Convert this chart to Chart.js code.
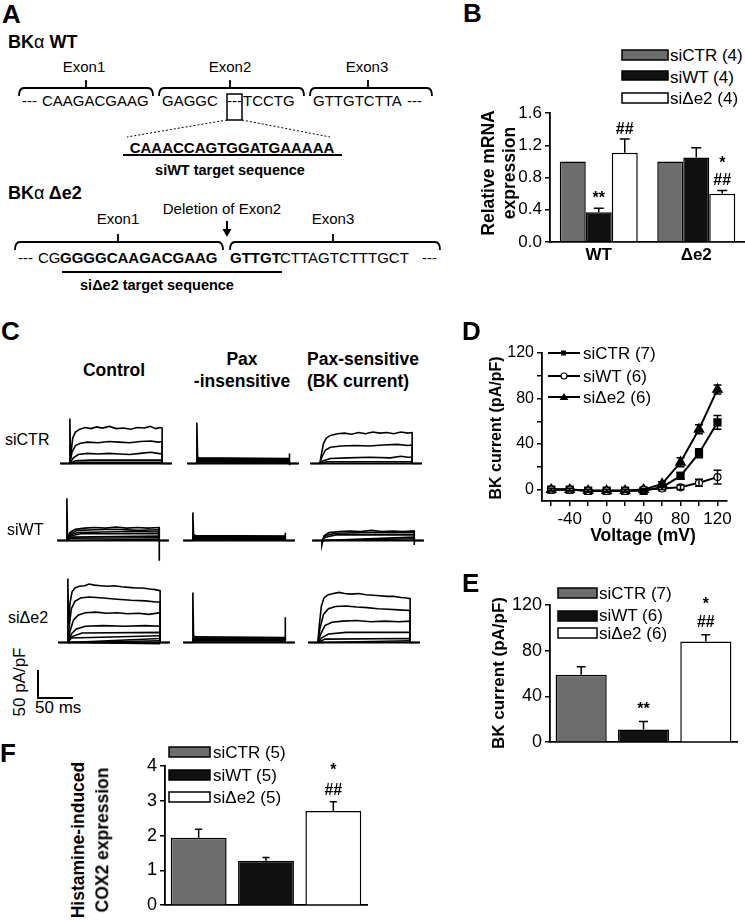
<!DOCTYPE html>
<html lang="en">
<head>
<meta charset="UTF-8">
<title>BK alpha splice variants</title>
<script src="https://cdn.jsdelivr.net/npm/chart.js"></script>
<style>
    body { margin: 0; background: #fff; }
    #fig {
        position: relative;
        width: 745px;
        height: 920px;
        overflow: hidden;
        background: #fff;
        color: #000;
        font-family: 'Liberation Sans', Arial, sans-serif;
    }
    .t { position: absolute; white-space: nowrap; line-height: 1; }
    canvas { position: absolute; }
    svg { position: absolute; left: 0; top: 0; }
</style>
</head>
<body>
<div id="fig">
<svg width="745" height="920" fill="none" stroke="#000">
    <!-- panel A diagram -->
    <g stroke-width="1.8">
        <path d="M19,96 Q19,88 24,88 L148,88 Q153,88 153,96 M86,88 L86,80"/>
        <path d="M159,96 Q159,88 164,88 L299,88 Q304,88 304,96 M230,88 L230,80"/>
        <path d="M310,96 Q310,88 315,88 L427,88 Q432,88 432,96 M368,88 L368,80"/>
        <path d="M15,250 Q15,242 20,242 L218,242 Q223,242 223,250 M118,242 L118,234"/>
        <path d="M230,250 Q230,242 235,242 L435,242 Q440,242 440,250 M333,242 L333,234"/>
        <rect x="227" y="94" width="15" height="26" stroke-width="1.5"/>
        <line x1="123" y1="155" x2="342" y2="155" stroke-width="2"/>
        <line x1="62" y1="272" x2="282" y2="272" stroke-width="2"/>
        <line x1="227" y1="221" x2="227" y2="230" stroke-width="2"/>
    </g>
    <polygon points="222.5,229 231.5,229 227,237" fill="#000" stroke="none"/>
    <g stroke-width="1" stroke-dasharray="2,2">
        <line x1="227" y1="120" x2="127" y2="137"/>
        <line x1="242" y1="120" x2="330" y2="137"/>
    </g>
    <!-- panel C scale bar -->
    <polyline points="38,670 38,698 73,698" stroke-width="2"/>
    <!-- legend keys -->
    <g stroke-width="1.5">
        <rect x="622" y="50" width="46" height="10" fill="#6d6d6d"/>
        <rect x="622" y="71" width="46" height="9" fill="#111"/>
        <rect x="622" y="93" width="46" height="10" fill="#fff"/>
        <rect x="558" y="588" width="39" height="10" fill="#6d6d6d"/>
        <rect x="558" y="611" width="39" height="10" fill="#111"/>
        <rect x="558" y="628" width="39" height="10" fill="#fff"/>
        <rect x="169" y="747" width="41" height="10" fill="#6d6d6d"/>
        <rect x="169" y="770" width="41" height="10" fill="#111"/>
        <rect x="169" y="792" width="41" height="10" fill="#fff"/>
    </g>
    <g stroke-width="2">
        <line x1="548" y1="353" x2="580" y2="353"/>
        <line x1="548" y1="376" x2="580" y2="376"/>
        <line x1="548" y1="397" x2="580" y2="397"/>
    </g>
    <rect x="561" y="350.5" width="5" height="5" fill="#000" stroke="none"/>
    <circle cx="564" cy="376" r="3" fill="#fff" stroke-width="1.2"/>
    <polygon points="564,393 568.5,400 559.5,400" fill="#000" stroke="none"/>
</svg>
</div>
<script>
// ---- B: relative mRNA expression
const mrnaGroups = ['WT', 'Δe2'];
const mrnaCTR = [1.0, 1.0];
const mrnaWT = [0.37, 1.05];
const mrnaDe2 = [1.11, 0.60];
const mrnaCTRerr = [0, 0];
const mrnaWTerr = [0.05, 0.12];
const mrnaDe2err = [0.17, 0.04];
const mrnaWTsig = ['**', ''];
const mrnaDe2sig = ['##', '*\n##'];
const mrnaTicks = [0, 0.4, 0.8, 1.2, 1.6];

// ---- D: I-V curves
const volts = [-60, -40, -20, 0, 20, 40, 60, 80, 100, 120];
const ivCTR = [0, 0, -1, -1, -1, -1, 2, 12, 32, 59];
const ivWT = [0, 0, -1, -1, -1, 0, 1, 2, 6, 11];
const ivDe2 = [0, 0, -1, -1, -1, 0, 5, 24, 53, 88];
const ivCTRerr = [1, 1, 1, 1, 1, 1, 2, 3, 4, 6];
const ivWTerr = [1, 1, 1, 1, 1, 1, 1, 2, 3, 6];
const ivDe2err = [1, 1, 1, 1, 1, 1, 2, 4, 4, 4];
const ivXTicks = [-60, -40, -20, 0, 20, 40, 60, 80, 100, 120];
const ivYTicks = [0, 20, 40, 60, 80, 100, 120];

// ---- E: BK current at +120 mV
const groups = ['siCTR', 'siWT', 'siΔe2'];
const bkMean = [59, 11, 88];
const bkErr = [7, 7, 6];
const bkSig = ['', '**', '*\n##'];
const bkTicks = [0, 40, 80, 120];

// ---- F: histamine-induced COX2
const coxMean = [1.94, 1.28, 2.71];
const coxErr = [0.24, 0.09, 0.26];
const coxSig = ['', '', '*\n##'];
const coxTicks = [0, 1, 2, 3, 4];

const barColors = ['#6d6d6d', '#111111', '#ffffff'];

// ---- C: example current traces, [ms, pA/pF]
const baseT = [-14, 145];
const ctrControl = [
    [[-12,0],[0,0],[0,80],[1,10],[4,45],[8,56],[14,61],[22,64],[30,62],[38,65],[46,63],[56,66],[66,62],[76,63],[86,61],[96,64],[106,63],[114,66],[122,62],[128,64],[131,63],[131,0],[143,0]],
    [[0,0],[3,20],[8,32],[15,36],[25,38],[40,37],[55,39],[70,38],[85,37],[100,39],[115,40],[125,38],[131,39],[131,0]],
    [[0,0],[5,10],[12,16],[25,18],[40,17],[55,18],[70,17],[85,16],[100,18],[115,20],[125,18],[131,17],[131,0]],
    [[0,0],[8,5],[30,6],[131,6],[131,0]],
    [[0,0],[10,2],[131,2],[131,0]]
];
const ctrPaxIns = [
    [[-12,0],[0,0],[0,73],[1,12],[3,10],[131,9],[131,18],[131.5,-3],[132,0],[143,0]],
    [[0,0],[1,9],[131,8],[131,0]],
    [[0,0],[1,7],[131,7]],
    [[0,0],[1,6],[131,5]],
    [[0,0],[1,4],[131,4]],
    [[0,0],[1,3],[131,2]],
    [[0,0],[1,1],[131,1]]
];
const ctrPaxSens = [
    [[-12,0],[0,0],[2,15],[5,35],[9,45],[15,50],[25,53],[35,54],[45,52],[55,55],[65,53],[75,56],[85,54],[95,55],[105,53],[115,56],[125,54],[131,55],[131,0],[143,0]],
    [[0,0],[3,12],[8,24],[15,29],[30,31],[50,32],[70,31],[90,33],[110,34],[125,32],[131,33],[131,0]],
    [[0,0],[5,5],[15,9],[40,10],[70,11],[100,10],[115,13],[125,11],[131,11],[131,0]],
    [[0,0],[10,3],[131,3],[131,0]]
];
const wtControl = [
    [[-12,0],[0,0],[0,75],[1,5],[5,15],[12,20],[25,22],[40,23],[55,22],[70,24],[85,22],[100,23],[115,22],[131,23],[131,-36],[131.5,0],[143,0]],
    [[0,0],[5,12],[15,18],[40,19],[70,20],[100,18],[131,19],[131,0]],
    [[0,0],[5,10],[15,14],[50,15],[90,16],[131,15],[131,0]],
    [[0,0],[5,8],[20,12],[131,12],[131,0]],
    [[0,0],[5,6],[131,8],[131,0]],
    [[0,0],[5,4],[131,5]],
    [[0,0],[131,2]]
];
const wtPaxIns = [
    [[-12,0],[0,0],[0,50],[1,10],[4,9],[131,8],[131,14],[131.5,0],[143,0]],
    [[0,0],[1,7],[131,7]],
    [[0,0],[1,6],[131,5]],
    [[0,0],[1,4],[131,4]],
    [[0,0],[1,3],[131,2]],
    [[0,0],[1,1],[131,1]]
];
const wtPaxSens = [
    [[-12,0],[0,0],[0,-8],[3,8],[10,14],[25,16],[40,17],[55,16],[70,18],[85,16],[100,17],[115,16],[131,17],[131,-8],[131.5,0],[143,0]],
    [[0,0],[5,9],[20,13],[60,14],[100,14],[131,14],[131,0]],
    [[0,0],[5,6],[20,10],[131,10],[131,0]],
    [[0,0],[131,6]],
    [[0,0],[131,3]]
];
const de2Control = [
    [[-12,0],[0,0],[0,114],[1,30],[3,70],[6,90],[10,97],[16,100],[24,101],[30,104],[38,102],[46,101],[56,100],[66,101],[76,99],[86,98],[96,97],[106,97],[116,95],[124,94],[131,92],[131,0],[143,0]],
    [[0,0],[2,30],[5,60],[10,73],[18,79],[30,81],[50,79],[70,77],[90,75],[110,74],[125,72],[131,72],[131,0]],
    [[0,0],[3,20],[8,40],[15,49],[25,53],[40,54],[55,52],[70,53],[85,51],[100,52],[115,50],[131,53],[131,0]],
    [[0,0],[5,15],[12,24],[25,29],[50,30],[80,29],[110,30],[131,29],[131,0]],
    [[0,0],[5,10],[20,17],[131,18],[131,0]],
    [[0,0],[5,8],[131,12]],
    [[0,0],[131,7]],
    [[0,0],[131,3]],
    [[0,0],[131,-2]]
];
const de2PaxIns = [
    [[-12,0],[0,0],[0,89],[1,12],[4,10],[131,9],[131,45],[131.5,0],[143,0]],
    [[0,0],[1,8],[131,8]],
    [[0,0],[1,7],[131,6]],
    [[0,0],[1,5],[131,5]],
    [[0,0],[1,3],[131,3]],
    [[0,0],[1,1],[131,1]]
];
const de2PaxSens = [
    [[-12,0],[0,0],[2,30],[5,65],[9,80],[15,85],[22,87],[30,89],[38,87],[48,86],[58,87],[68,85],[78,84],[88,83],[98,82],[108,82],[118,80],[126,79],[131,78],[131,0],[143,0]],
    [[0,0],[3,25],[8,50],[15,60],[25,64],[40,65],[55,63],[70,62],[85,60],[100,59],[115,58],[131,57],[131,0]],
    [[0,0],[4,15],[10,30],[20,36],[35,38],[55,39],[75,37],[95,38],[115,37],[131,38],[131,0]],
    [[0,0],[5,8],[15,15],[40,18],[131,18],[131,0]],
    [[0,0],[10,6],[131,7],[131,0]],
    [[0,0],[131,3]]
];

const fig = document.getElementById('fig');
const FONT = "'Liberation Sans', Arial, sans-serif";

Chart.defaults.font.family = FONT;
Chart.defaults.color = '#000';
Chart.defaults.animation = false;
Chart.defaults.plugins.legend.display = false;
Chart.defaults.plugins.tooltip.enabled = false;

function label(html, x, y, size, bold, align, rot) {
    const d = document.createElement('div');
    d.className = 't';
    d.innerHTML = html;
    d.style.fontSize = size + 'px';
    d.style.fontWeight = bold ? 'bold' : 'normal';
    d.style.left = x + 'px';
    d.style.top = y + 'px';
    if (rot) d.style.transform = 'translate(-50%,-50%) rotate(-90deg)';
    else if (align === 'c') d.style.transform = 'translate(-50%,-50%)';
    else d.style.transform = 'translateY(-50%)';
    fig.appendChild(d);
}

function addCanvas(left, top, w, h) {
    const cv = document.createElement('canvas');
    cv.width = w;
    cv.height = h;
    cv.style.left = left + 'px';
    cv.style.top = top + 'px';
    fig.appendChild(cv);
    return cv;
}

// error bars: up only for bars, both ways for points
const errorBars = {
    id: 'errorBars',
    afterDatasetsDraw(chart, args, opts) {
        const ctx = chart.ctx;
        const ys = chart.scales.y;
        chart.data.datasets.forEach((ds, i) => {
            if (!ds.errors) return;
            chart.getDatasetMeta(i).data.forEach((el, j) => {
                const err = ds.errors[j];
                if (!err) return;
                const raw = ds.data[j];
                const v = typeof raw === 'object' ? raw.y : raw;
                const top = ys.getPixelForValue(v + err);
                const bot = opts.both ? ys.getPixelForValue(v - err) : el.y;
                const c = opts.cap / 2;
                ctx.save();
                ctx.strokeStyle = '#000';
                ctx.lineWidth = 1.5;
                ctx.beginPath();
                ctx.moveTo(el.x, bot);
                ctx.lineTo(el.x, top);
                ctx.moveTo(el.x - c, top);
                ctx.lineTo(el.x + c, top);
                if (opts.both) {
                    ctx.moveTo(el.x - c, bot);
                    ctx.lineTo(el.x + c, bot);
                }
                ctx.stroke();
                ctx.restore();
            });
        });
    }
};

// significance marks above the error bar
const sigMarks = {
    id: 'sigMarks',
    afterDatasetsDraw(chart, args, opts) {
        const ctx = chart.ctx;
        const ys = chart.scales.y;
        chart.data.datasets.forEach((ds, i) => {
            if (!ds.sig) return;
            chart.getDatasetMeta(i).data.forEach((el, j) => {
                if (!ds.sig[j]) return;
                const top = ys.getPixelForValue(ds.data[j] + (ds.errors ? ds.errors[j] : 0));
                const lines = ds.sig[j].split('\n');
                ctx.save();
                ctx.fillStyle = '#000';
                ctx.font = 'bold ' + opts.size + 'px ' + FONT;
                ctx.textAlign = 'center';
                ctx.textBaseline = 'alphabetic';
                let y = top - opts.gap;
                for (let k = lines.length - 1; k >= 0; k--) {
                    ctx.fillText(lines[k], el.x, y);
                    y -= opts.lineHeight;
                }
                ctx.restore();
            });
        });
    }
};

function yAxis(min, max, ticks, fmt, width, size) {
    return {
        min: min,
        max: max,
        afterFit: s => { s.width = width; },
        afterBuildTicks: s => { s.ticks = ticks.map(v => ({ value: v })); },
        ticks: { callback: fmt, font: { size: size }, padding: 3, autoSkip: false },
        grid: { drawOnChartArea: false, tickLength: 5, color: '#000', lineWidth: 1.5 },
        border: { color: '#000', width: 1.8 }
    };
}

function plainX(height) {
    return {
        afterFit: s => { s.height = height; },
        ticks: { display: false },
        grid: { display: false, drawTicks: false },
        border: { color: '#000', width: 1.8 }
    };
}

// ---------- panel B
new Chart(addCanvas(490, 100, 255, 174), {
    type: 'bar',
    data: {
        labels: mrnaGroups,
        datasets: [
            { data: mrnaCTR, errors: mrnaCTRerr, backgroundColor: barColors[0] },
            { data: mrnaWT, errors: mrnaWTerr, sig: mrnaWTsig, backgroundColor: barColors[1] },
            { data: mrnaDe2, errors: mrnaDe2err, sig: mrnaDe2sig, backgroundColor: barColors[2] }
        ]
    },
    options: {
        responsive: false,
        devicePixelRatio: 1,
        layout: { padding: { top: 10, right: 0, left: 0, bottom: 0 } },
        datasets: { bar: { borderColor: '#000', borderWidth: 1.5, categoryPercentage: 0.8, barPercentage: 1 } },
        scales: {
            x: {
                afterFit: s => { s.height = 32; },
                ticks: { font: { size: 17, weight: 'bold' }, padding: 3 },
                grid: { display: false, drawTicks: false },
                border: { color: '#000', width: 1.8 }
            },
            y: yAxis(0, 1.6, mrnaTicks, v => v.toFixed(1), 60, 17)
        },
        plugins: {
            errorBars: { cap: 10 },
            sigMarks: { size: 16, gap: 5, lineHeight: 17 }
        }
    },
    plugins: [errorBars, sigMarks]
});

// ---------- panel D
function ivSet(vals, errs, style, radius, fill) {
    return {
        data: volts.map((v, i) => ({ x: v, y: vals[i] })),
        errors: errs,
        showLine: true,
        borderColor: '#000',
        borderWidth: 2,
        pointStyle: style,
        pointRadius: radius,
        pointBackgroundColor: fill,
        pointBorderColor: '#000',
        pointBorderWidth: 1.2
    };
}

new Chart(addCanvas(490, 340, 245, 191), {
    type: 'scatter',
    data: {
        datasets: [
            ivSet(ivWT, ivWTerr, 'circle', 3.5, '#fff'),
            ivSet(ivCTR, ivCTRerr, 'rect', 5, '#000'),
            ivSet(ivDe2, ivDe2err, 'triangle', 5.5, '#000')
        ]
    },
    options: {
        responsive: false,
        devicePixelRatio: 1,
        layout: { padding: { top: 13, right: 7, left: 0, bottom: 0 } },
        scales: {
            x: {
                type: 'linear',
                min: -70,
                max: 130,
                afterFit: s => { s.height = 30; },
                afterBuildTicks: s => { s.ticks = ivXTicks.map(v => ({ value: v })); },
                ticks: { callback: v => (v % 40 === 0 ? v : ''), font: { size: 17 }, padding: 3, maxRotation: 0, autoSkip: false },
                grid: { drawOnChartArea: false, tickLength: 5, color: '#000', lineWidth: 1.5 },
                border: { color: '#000', width: 1.8 }
            },
            y: yAxis(-10, 120, ivYTicks, v => (v % 40 === 0 ? v : ''), 52, 16)
        },
        plugins: { errorBars: { cap: 8, both: true } }
    },
    plugins: [errorBars]
});

// ---------- panel E
new Chart(addCanvas(490, 590, 255, 166), {
    type: 'bar',
    data: {
        labels: groups,
        datasets: [{ data: bkMean, errors: bkErr, sig: bkSig, backgroundColor: barColors }]
    },
    options: {
        responsive: false,
        devicePixelRatio: 1,
        layout: { padding: { top: 15, right: 8, left: 0, bottom: 0 } },
        datasets: { bar: { borderColor: '#000', borderWidth: 1.5, categoryPercentage: 0.82, barPercentage: 1 } },
        scales: {
            x: plainX(5),
            y: yAxis(0, 120, bkTicks, v => v, 60, 18)
        },
        plugins: {
            errorBars: { cap: 9 },
            sigMarks: { size: 16, gap: 8, lineHeight: 18 }
        }
    },
    plugins: [errorBars, sigMarks]
});

// ---------- panel F
new Chart(addCanvas(110, 750, 265, 169), {
    type: 'bar',
    data: {
        labels: groups,
        datasets: [{ data: coxMean, errors: coxErr, sig: coxSig, backgroundColor: barColors }]
    },
    options: {
        responsive: false,
        devicePixelRatio: 1,
        layout: { padding: { top: 16, right: 8, left: 0, bottom: 0 } },
        datasets: { bar: { borderColor: '#000', borderWidth: 1.5, categoryPercentage: 0.83, barPercentage: 1 } },
        scales: {
            x: plainX(5),
            y: yAxis(0, 4, coxTicks, v => v, 55, 18)
        },
        plugins: {
            errorBars: { cap: 7 },
            sigMarks: { size: 16, gap: 7, lineHeight: 20 }
        }
    },
    plugins: [errorBars, sigMarks]
});

// ---------- panel C traces
function traceChart(left, top, traces) {
    const datasets = traces.map(tr => ({
        data: tr.map(p => ({ x: p[0], y: p[1] })),
        showLine: true,
        pointRadius: 0,
        borderColor: '#000',
        borderWidth: 1.6
    }));
    datasets.push({
        data: baseT.map(t => ({ x: t, y: 0 })),
        showLine: true,
        pointRadius: 0,
        borderColor: '#000',
        borderWidth: 2.2
    });
    new Chart(addCanvas(left, top, 112, 90), {
        type: 'scatter',
        data: { datasets: datasets },
        options: {
            responsive: false,
            devicePixelRatio: 1,
            layout: { padding: 0 },
            scales: {
                x: { display: false, min: -14, max: 145 },
                y: { display: false, min: -40, max: 120 }
            }
        }
    });
}

traceChart(60, 396, ctrControl);
traceChart(187, 396, ctrPaxIns);
traceChart(310, 396, ctrPaxSens);
traceChart(57, 473, wtControl);
traceChart(183, 473, wtPaxIns);
traceChart(312, 473, wtPaxSens);
traceChart(58, 575, de2Control);
traceChart(183, 575, de2PaxIns);
traceChart(308, 575, de2PaxSens);

// ---------- text
// panel A
label('A', 2, 14, 26, true);
label('BK<span style="font-weight:normal">α</span> WT', 8, 42, 18, true);
label('Exon1', 84, 66, 15, false, 'c');
label('Exon2', 230, 66, 15, false, 'c');
label('Exon3', 367, 66, 15, false, 'c');
label('---', 22, 100, 15);
label('CAAGACGAAG', 42, 100, 15);
label('GAGGC', 162, 100, 15);
label('---', 234.5, 100, 15, false, 'c');
label('TCCTG', 243, 100, 15);
label('GTTGTCTTA', 313, 100, 15);
label('---', 407, 100, 15);
label('CAAACCAGTGGATGAAAAA', 232, 147, 15, true, 'c');
label('siWT target sequence', 230, 170, 14.5, true, 'c');
label('BK<span style="font-weight:normal">α</span> Δe2', 8, 193, 18, true);
label('Deletion of Exon2', 222, 208, 15, false, 'c');
label('Exon1', 118, 218, 15, false, 'c');
label('Exon3', 333, 218, 15, false, 'c');
label('---', 18, 257, 15);
label('CG', 38, 257, 15);
label('GGGGCAAGACGAAG', 60, 257, 15, true);
label('GTTGT', 230, 257, 15, true);
label('CTTAGTCTTTGCT', 280, 257, 15);
label('---', 422, 257, 15);
label('siΔe2 target sequence', 157, 285, 14.5, true, 'c');

// panel B
label('B', 463, 13, 26, true);
label('siCTR (4)', 670, 55, 17);
label('siWT (4)', 670, 77, 17);
label('siΔe2 (4)', 670, 98, 17);
label('Relative mRNA', 489, 173, 17.5, true, 'c', true);
label('expression', 510, 173, 17.5, true, 'c', true);

// panel C
label('C', 1, 331, 26, true);
label('Control', 114, 371, 17.5, true, 'c');
label('Pax', 242, 360, 17.5, true, 'c');
label('-insensitive', 242, 382, 17.5, true, 'c');
label('Pax-sensitive', 307, 360, 17.5, true);
label('(BK current)', 307, 382, 17.5, true);
label('siCTR', 5, 440, 16);
label('siWT', 7, 530, 16);
label('siΔe2', 8, 618, 16);
label('50 pA/pF', 19, 682, 17, false, 'c', true);
label('50 ms', 35, 707, 17);

// panel D
label('D', 462, 331, 26, true);
label('siCTR (7)', 583, 353, 17);
label('siWT (6)', 583, 376, 17);
label('siΔe2 (6)', 583, 397, 17);
label('BK current (pA/pF)', 496, 428, 16, true, 'c', true);
label('Voltage (mV)', 643, 536, 17.5, true, 'c');

// panel E
label('E', 462, 583, 26, true);
label('siCTR (7)', 599, 593, 17);
label('siWT (6)', 599, 615, 17);
label('siΔe2 (6)', 599, 633, 17);
label('BK current (pA/pF)', 498, 673, 17, true, 'c', true);

// panel F
label('F', 0, 753, 26, true);
label('siCTR (5)', 213, 752, 17);
label('siWT (5)', 213, 775, 17);
label('siΔe2 (5)', 213, 797, 17);
label('Histamine-induced', 79, 840, 17.5, true, 'c', true);
label('COX2 expression', 103, 840, 17.5, true, 'c', true);
</script>
</body>
</html>
